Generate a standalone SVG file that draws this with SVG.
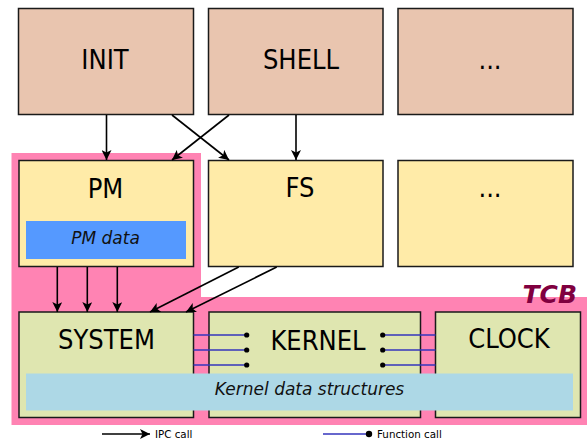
<svg xmlns="http://www.w3.org/2000/svg" width="587" height="441" viewBox="0 0 587 441">
<style>
.box{stroke:#1a1a1a;stroke-width:1.5}
.user{fill:#e9c5af}
.srv{fill:#ffeba8}
.krn{fill:#dfe6b0}
.lbl{font-family:"DejaVu Sans Condensed","DejaVu Sans",sans-serif;font-size:27px;fill:#000;text-anchor:middle}
.ital{font-family:"DejaVu Sans","Liberation Sans",sans-serif;font-style:italic;font-size:17px;fill:#111;text-anchor:middle}
.leg{font-family:"DejaVu Sans","Liberation Sans",sans-serif;font-size:10.3px;fill:#000}
.ipc{stroke:#000;stroke-width:1.6;fill:none}
.fn{stroke:#3434bc;stroke-width:1.6;fill:none}
</style>
<defs>
<marker id="ah" viewBox="0 0 10 10" refX="10" refY="5" markerWidth="10" markerHeight="10" markerUnits="userSpaceOnUse" orient="auto">
<path d="M0,0 L10,5 L0,10 L2.5,5 Z" fill="#000"/>
</marker>
</defs>
<rect width="587" height="441" fill="#fff"/>
<g id="tcb">
<path d="M11.5,153 H201 V297 H587 V425 H11.5 Z" fill="#ff83b3"/>
<text x="577" y="303" text-anchor="end" font-family="DejaVu Sans,sans-serif" font-weight="bold" font-style="italic" font-size="25" fill="#800040">TCB</text>
</g>
<g id="init"><rect class="box user" x="18.5" y="8.5" width="175" height="106"/><text class="lbl" x="105" y="69">INIT</text></g>
<g id="shell"><rect class="box user" x="208.5" y="8.5" width="174.5" height="106"/><text class="lbl" x="301" y="69">SHELL</text></g>
<g id="user-more"><rect class="box user" x="398" y="8.5" width="175" height="106"/><text class="lbl" x="490" y="69">...</text></g>
<g id="pm"><rect class="box srv" x="19" y="160.5" width="174.5" height="106"/><text class="lbl" x="105.5" y="198">PM</text>
<rect x="26" y="221" width="160" height="38" fill="#5599ff"/><text class="ital" x="105.5" y="244">PM data</text></g>
<g id="fs"><rect class="box srv" x="208.5" y="160.5" width="174.5" height="106"/><text class="lbl" x="300" y="197">FS</text></g>
<g id="srv-more"><rect class="box srv" x="398" y="160.5" width="175" height="106"/><text class="lbl" x="490" y="197">...</text></g>
<g id="system"><rect class="box krn" x="19" y="312" width="174.5" height="105.5"/><text class="lbl" x="106.5" y="349">SYSTEM</text></g>
<g id="kernel"><rect class="box krn" x="209" y="312" width="211.5" height="105.5"/><text class="lbl" x="318" y="350">KERNEL</text></g>
<g id="clock"><rect class="box krn" x="435.5" y="312" width="145" height="105.5"/><text class="lbl" x="509" y="348">CLOCK</text></g>
<g id="kernel-data"><rect x="26" y="373.5" width="547" height="37" fill="#add8e6"/><text class="ital" x="309.5" y="394.5" font-size="18">Kernel data structures</text></g>
<g id="connectors">
<line class="ipc" x1="106.5" y1="115" x2="106.5" y2="160" marker-end="url(#ah)"/>
<line class="ipc" x1="172" y1="115" x2="229" y2="160" marker-end="url(#ah)"/>
<line class="ipc" x1="229" y1="115" x2="172" y2="160" marker-end="url(#ah)"/>
<line class="ipc" x1="296" y1="115" x2="296" y2="160" marker-end="url(#ah)"/>
<line class="ipc" x1="57.3" y1="267" x2="57.3" y2="312" marker-end="url(#ah)"/>
<line class="ipc" x1="87.3" y1="267" x2="87.3" y2="312" marker-end="url(#ah)"/>
<line class="ipc" x1="117.3" y1="267" x2="117.3" y2="312" marker-end="url(#ah)"/>
<line class="ipc" x1="238.7" y1="267" x2="150" y2="312" marker-end="url(#ah)"/>
<line class="ipc" x1="276.7" y1="267" x2="186" y2="312" marker-end="url(#ah)"/>
<g fill="#000">
<line class="fn" x1="193.5" y1="335" x2="246.7" y2="335"/><circle cx="246.7" cy="335" r="2.6"/>
<line class="fn" x1="193.5" y1="350" x2="246.7" y2="350"/><circle cx="246.7" cy="350" r="2.6"/>
<line class="fn" x1="193.5" y1="365" x2="246.7" y2="365"/><circle cx="246.7" cy="365" r="2.6"/>
<line class="fn" x1="382.7" y1="335" x2="435.5" y2="335"/><circle cx="382.7" cy="335" r="2.6"/>
<line class="fn" x1="382.7" y1="350" x2="435.5" y2="350"/><circle cx="382.7" cy="350" r="2.6"/>
<line class="fn" x1="382.7" y1="365" x2="435.5" y2="365"/><circle cx="382.7" cy="365" r="2.6"/>
</g>
</g>
<g id="legend">
<line class="ipc" x1="102" y1="434" x2="150" y2="434" marker-end="url(#ah)"/>
<text class="leg" x="155" y="437.5">IPC call</text>
<line class="fn" x1="323" y1="434" x2="369" y2="434" stroke="#0000a0"/>
<circle cx="369" cy="434" r="3.2" fill="#000"/>
<text class="leg" x="377" y="437.5">Function call</text>
</g>
</svg>
